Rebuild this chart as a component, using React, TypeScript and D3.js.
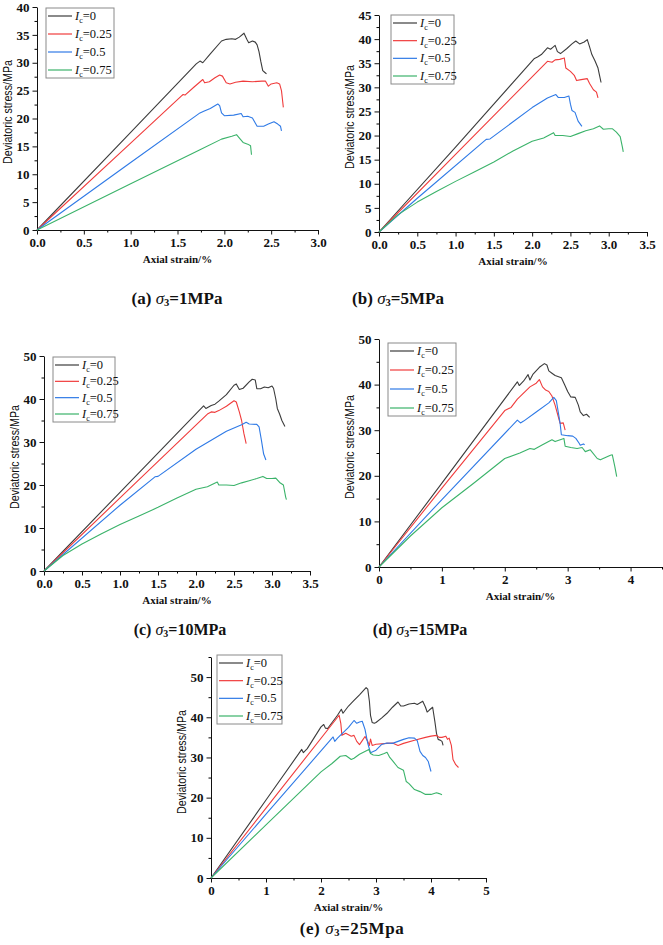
import { useEffect, useRef } from "react";
import * as d3 from "d3";

const W = 663;
const H = 945;

const levels = ["0", "0.25", "0.5", "0.75"];
const colors = ["#3c3c3c", "#f03c3c", "#2f7ae6", "#3bb36a"];

type Pt = [number, number];

// σ3 = 1 MPa  (strain %, deviatoric stress MPa)
const a_ic0: Pt[] = [[0, 0], [1.0, 17.5], [1.7, 29.8], [1.74, 30.3], [1.77, 30.0], [1.85, 31.6], [1.97, 33.9], [2.02, 34.2], [2.08, 34.3], [2.12, 34.2], [2.16, 34.6], [2.21, 35.3], [2.24, 34.2], [2.26, 33.6], [2.3, 33.9], [2.33, 33.7], [2.35, 33.2], [2.37, 32.0], [2.39, 30.2], [2.41, 28.6], [2.43, 28.3], [2.45, 28.0]];
const a_ic025: Pt[] = [[0, 0], [1.0, 15.6], [1.54, 24.0], [1.56, 24.3], [1.58, 24.2], [1.68, 25.7], [1.77, 27.0], [1.79, 26.4], [1.84, 26.6], [1.9, 27.3], [1.95, 27.8], [1.98, 27.6], [2.02, 26.4], [2.06, 26.2], [2.12, 26.5], [2.2, 26.7], [2.3, 26.6], [2.4, 26.7], [2.44, 26.7], [2.47, 25.8], [2.5, 26.2], [2.56, 26.4], [2.59, 26.2], [2.61, 25.0], [2.62, 23.5], [2.63, 22.0]];
const a_ic05: Pt[] = [[0, 0], [1.0, 12.1], [1.74, 21.0], [1.78, 21.3], [1.85, 21.8], [1.93, 22.6], [1.95, 22.3], [1.97, 21.0], [2.0, 20.5], [2.1, 20.6], [2.18, 20.9], [2.2, 20.3], [2.25, 20.4], [2.3, 20.1], [2.33, 19.2], [2.35, 18.6], [2.42, 18.6], [2.47, 19.0], [2.53, 19.4], [2.57, 19.0], [2.6, 18.6], [2.61, 17.8]];
const a_ic075: Pt[] = [[0, 0], [1.0, 8.3], [1.74, 14.4], [1.97, 16.3], [2.08, 16.8], [2.13, 17.1], [2.17, 16.3], [2.2, 15.7], [2.25, 15.4], [2.28, 15.1], [2.29, 13.5]];

// σ3 = 5 MPa
const b_ic0: Pt[] = [[0, 0], [1.0, 17.6], [2.03, 36.0], [2.07, 36.3], [2.12, 36.8], [2.2, 38.2], [2.24, 37.9], [2.27, 38.3], [2.3, 38.7], [2.33, 37.4], [2.37, 37.0], [2.45, 38.0], [2.52, 39.0], [2.57, 39.6], [2.62, 39.0], [2.68, 39.4], [2.72, 39.9], [2.75, 38.4], [2.78, 36.8], [2.82, 35.5], [2.86, 34.0], [2.88, 32.5], [2.9, 31.0]];
const b_ic025: Pt[] = [[0, 0], [1.0, 16.1], [2.2, 35.4], [2.26, 35.2], [2.3, 35.7], [2.36, 35.8], [2.42, 36.1], [2.44, 34.0], [2.5, 33.3], [2.55, 32.5], [2.58, 31.4], [2.64, 31.6], [2.72, 31.8], [2.75, 30.8], [2.8, 29.5], [2.84, 29.0], [2.86, 27.8]];
const b_ic05: Pt[] = [[0, 0], [0.5, 7.0], [1.4, 19.2], [1.45, 19.3], [2.0, 25.8], [2.2, 27.8], [2.31, 28.5], [2.34, 27.9], [2.42, 27.9], [2.48, 28.2], [2.5, 26.5], [2.52, 25.2], [2.56, 24.8], [2.6, 23.0], [2.65, 21.9]];
const b_ic075: Pt[] = [[0, 0], [0.25, 3.6], [0.5, 6.2], [0.75, 8.4], [1.0, 10.5], [1.25, 12.5], [1.5, 14.5], [1.75, 16.8], [2.0, 18.8], [2.15, 19.5], [2.28, 20.6], [2.3, 20.0], [2.4, 20.0], [2.5, 19.8], [2.6, 20.4], [2.7, 21.0], [2.8, 21.4], [2.88, 22.0], [2.93, 21.3], [3.0, 21.4], [3.05, 21.4], [3.1, 20.7], [3.15, 19.8], [3.18, 17.5], [3.19, 16.6]];

// σ3 = 10 MPa
const c_ic0: Pt[] = [[0, 0], [1.0, 18.3], [2.1, 38.4], [2.13, 37.8], [2.2, 38.5], [2.25, 38.8], [2.3, 39.5], [2.4, 41.0], [2.5, 43.2], [2.53, 43.5], [2.57, 42.2], [2.62, 42.5], [2.7, 44.0], [2.74, 44.6], [2.78, 44.4], [2.8, 42.4], [2.85, 42.4], [2.9, 42.8], [2.95, 42.6], [3.0, 43.0], [3.02, 42.5], [3.05, 40.0], [3.07, 37.8], [3.1, 36.5], [3.13, 35.0], [3.17, 33.6]];
const c_ic025: Pt[] = [[0, 0], [1.0, 17.0], [2.15, 36.5], [2.2, 37.0], [2.25, 36.9], [2.3, 37.3], [2.4, 38.3], [2.5, 39.6], [2.53, 39.3], [2.57, 37.0], [2.6, 35.0], [2.63, 32.0], [2.66, 29.6]];
const c_ic05: Pt[] = [[0, 0], [1.0, 15.3], [1.46, 21.9], [1.5, 22.0], [2.0, 28.3], [2.4, 32.5], [2.6, 34.0], [2.66, 34.6], [2.7, 34.2], [2.8, 34.1], [2.83, 33.5], [2.86, 30.5], [2.89, 27.2], [2.92, 25.8]];
const c_ic075: Pt[] = [[0, 0], [0.25, 3.6], [0.5, 6.3], [0.75, 8.6], [1.0, 10.8], [1.25, 12.8], [1.5, 14.8], [1.75, 17.0], [2.0, 19.0], [2.15, 19.6], [2.28, 20.7], [2.3, 20.0], [2.4, 20.0], [2.5, 19.9], [2.6, 20.5], [2.7, 21.0], [2.8, 21.5], [2.88, 22.0], [2.93, 21.5], [3.0, 21.5], [3.05, 21.6], [3.1, 20.6], [3.15, 20.0], [3.18, 17.2], [3.19, 16.6]];

// σ3 = 15 MPa
const d_ic0: Pt[] = [[0, 0], [1.0, 18.4], [2.2, 40.6], [2.23, 39.8], [2.3, 40.8], [2.37, 42.2], [2.4, 41.0], [2.45, 42.3], [2.55, 43.8], [2.63, 44.6], [2.67, 44.3], [2.7, 43.0], [2.75, 42.5], [2.8, 42.0], [2.9, 41.5], [2.95, 40.0], [3.0, 38.5], [3.05, 37.3], [3.12, 37.2], [3.17, 35.5], [3.2, 34.0], [3.25, 33.2], [3.3, 33.5], [3.35, 32.8]];
const d_ic025: Pt[] = [[0, 0], [1.0, 17.3], [2.0, 34.3], [2.1, 35.0], [2.2, 36.8], [2.4, 39.5], [2.5, 40.3], [2.55, 41.1], [2.6, 39.5], [2.65, 38.8], [2.7, 38.5], [2.75, 37.5], [2.8, 35.5], [2.85, 33.0], [2.88, 31.5], [2.93, 31.6], [2.96, 30.0]];
const d_ic05: Pt[] = [[0, 0], [1.0, 14.8], [2.2, 32.2], [2.25, 31.6], [2.3, 32.0], [2.5, 34.0], [2.7, 36.0], [2.78, 37.2], [2.82, 36.5], [2.85, 34.0], [2.88, 31.5], [2.9, 29.0], [3.0, 28.8], [3.08, 28.7], [3.13, 28.2], [3.18, 27.2], [3.2, 26.7], [3.25, 27.0], [3.27, 26.8]];
const d_ic075: Pt[] = [[0, 0], [0.5, 6.8], [1.0, 13.0], [1.5, 18.3], [2.0, 23.8], [2.24, 25.0], [2.4, 26.0], [2.47, 25.8], [2.6, 26.8], [2.75, 27.9], [2.8, 27.5], [2.94, 28.2], [2.96, 26.5], [3.05, 26.2], [3.15, 26.0], [3.23, 26.2], [3.28, 25.3], [3.36, 25.7], [3.47, 23.8], [3.52, 23.5], [3.6, 24.0], [3.68, 24.5], [3.71, 24.6], [3.75, 22.0], [3.78, 19.8]];

// σ3 = 25 MPa
const e_ic0: Pt[] = [[0, 0], [1.0, 19.4], [1.65, 32.0], [1.68, 31.2], [1.75, 32.2], [2.0, 37.6], [2.05, 38.2], [2.08, 37.3], [2.12, 37.2], [2.3, 40.5], [2.37, 42.0], [2.4, 41.0], [2.5, 42.8], [2.6, 44.2], [2.7, 45.6], [2.82, 47.4], [2.85, 47.0], [2.88, 44.0], [2.9, 40.5], [2.93, 38.7], [2.97, 38.5], [3.0, 38.7], [3.1, 39.8], [3.2, 41.0], [3.3, 42.5], [3.4, 43.8], [3.45, 42.8], [3.5, 42.8], [3.6, 43.3], [3.7, 43.5], [3.75, 43.2], [3.85, 44.0], [3.9, 42.5], [3.93, 41.3], [3.97, 41.8], [4.03, 42.5], [4.07, 39.0], [4.1, 36.0], [4.13, 34.5], [4.18, 34.2], [4.2, 34.0], [4.22, 33.0]];
const e_ic025: Pt[] = [[0, 0], [1.0, 17.4], [2.33, 40.5], [2.36, 38.5], [2.38, 35.5], [2.45, 36.0], [2.55, 35.3], [2.6, 35.5], [2.65, 34.0], [2.7, 33.2], [2.75, 34.2], [2.8, 35.2], [2.85, 34.0], [2.88, 33.0], [2.9, 34.6], [2.93, 33.0], [3.0, 33.3], [3.2, 33.5], [3.3, 33.6], [3.4, 33.0], [3.5, 33.5], [3.7, 34.3], [3.9, 35.0], [4.0, 35.3], [4.1, 35.5], [4.15, 35.0], [4.2, 35.0], [4.27, 35.3], [4.3, 34.5], [4.33, 34.8], [4.37, 33.0], [4.4, 29.5], [4.45, 28.2], [4.5, 27.5]];
const e_ic05: Pt[] = [[0, 0], [1.0, 15.9], [2.22, 35.1], [2.25, 34.0], [2.3, 34.8], [2.5, 37.5], [2.6, 39.2], [2.65, 38.5], [2.7, 38.8], [2.75, 39.0], [2.8, 37.0], [2.85, 33.5], [2.9, 31.2], [3.0, 31.8], [3.1, 33.2], [3.2, 33.6], [3.3, 33.5], [3.5, 34.5], [3.6, 34.9], [3.7, 34.8], [3.75, 34.2], [3.8, 31.5], [3.85, 30.5], [3.9, 30.0], [3.95, 29.0], [4.0, 26.5]];
const e_ic075: Pt[] = [[0, 0], [1.0, 13.2], [2.0, 26.4], [2.2, 28.5], [2.35, 30.3], [2.45, 30.5], [2.55, 29.5], [2.6, 29.8], [2.7, 30.8], [2.87, 32.0], [2.9, 31.0], [2.95, 30.6], [3.05, 30.5], [3.15, 31.0], [3.2, 31.3], [3.25, 30.0], [3.3, 29.2], [3.4, 27.5], [3.5, 26.8], [3.55, 24.0], [3.6, 23.5], [3.7, 22.0], [3.8, 21.5], [3.9, 20.8], [4.0, 20.8], [4.1, 21.2], [4.15, 21.0], [4.2, 20.7]];

// axis ticks
const xTicksA = [0, 0.5, 1, 1.5, 2, 2.5, 3];
const xTicksB = [0, 0.5, 1, 1.5, 2, 2.5, 3, 3.5];
const xTicksD = [0, 1, 2, 3, 4];
const xTicksE = [0, 1, 2, 3, 4, 5];
const yTicksA = [0, 5, 10, 15, 20, 25, 30, 35, 40];
const yTicksB = [0, 5, 10, 15, 20, 25, 30, 35, 40, 45];
const yTicks10 = [0, 10, 20, 30, 40, 50];

const captions = [
  { tag: "(a)", sub: "3", value: "=1MPa" },
  { tag: "(b)", sub: "3", value: "=5MPa" },
  { tag: "(c)", sub: "3", value: "=10MPa" },
  { tag: "(d)", sub: "3", value: "=15MPa" },
  { tag: "(e)", sub: "3", value: "=25Mpa" },
];

type Panel = {
  series: Pt[][];
  xDomain: [number, number];
  yDomain: [number, number];
  xTicks: number[];
  yTicks: number[];
  xMinor: number;
  yMinor: number;
  xFmt: string;
  left: number; right: number; top: number; bottom: number;
  legend: { x: number; y: number; w: number; h: number };
  caption: { x: number; y: number; size: number; spacing: number };
  labelY: number;
};

const panels: Panel[] = [
  {
    series: [a_ic0, a_ic025, a_ic05, a_ic075],
    xDomain: [0, 3], yDomain: [0, 40], xTicks: xTicksA, yTicks: yTicksA, xMinor: 0.25, yMinor: 2.5, xFmt: ".1f",
    left: 37, right: 318, top: 7, bottom: 230,
    legend: { x: 46, y: 8, w: 68, h: 70 },
    caption: { x: 177, y: 304, size: 17, spacing: 0 },
    labelY: 112,
  },
  {
    series: [b_ic0, b_ic025, b_ic05, b_ic075],
    xDomain: [0, 3.5], yDomain: [0, 45], xTicks: xTicksB, yTicks: yTicksB, xMinor: 0.25, yMinor: 2.5, xFmt: ".1f",
    left: 379, right: 647, top: 15, bottom: 232,
    legend: { x: 391, y: 15, w: 63, h: 69 },
    caption: { x: 398, y: 304, size: 17, spacing: 0 },
    labelY: 117,
  },
  {
    series: [c_ic0, c_ic025, c_ic05, c_ic075],
    xDomain: [0, 3.5], yDomain: [0, 50], xTicks: xTicksB, yTicks: yTicks10, xMinor: 0.25, yMinor: 5, xFmt: ".1f",
    left: 44, right: 310, top: 356, bottom: 571,
    legend: { x: 53, y: 357, w: 62, h: 65 },
    caption: { x: 180, y: 635, size: 16, spacing: 0 },
    labelY: 457,
  },
  {
    series: [d_ic0, d_ic025, d_ic05, d_ic075],
    xDomain: [0, 4.5], yDomain: [0, 50], xTicks: xTicksD, yTicks: yTicks10, xMinor: 0.5, yMinor: 5, xFmt: "d",
    left: 379, right: 662, top: 339, bottom: 567,
    legend: { x: 388, y: 343, w: 68, h: 73 },
    caption: { x: 420, y: 635, size: 16, spacing: 0 },
    labelY: 447,
  },
  {
    series: [e_ic0, e_ic025, e_ic05, e_ic075],
    xDomain: [0, 5], yDomain: [0, 55], xTicks: xTicksE, yTicks: yTicks10, xMinor: 0.5, yMinor: 5, xFmt: "d",
    left: 211, right: 486, top: 657, bottom: 878,
    legend: { x: 217, y: 655, w: 65, h: 69 },
    caption: { x: 352, y: 934, size: 17, spacing: 0.6 },
    labelY: 762,
  },
];

const serif = "'Liberation Serif', 'Times New Roman', serif";
const sans = "'Liberation Sans', Arial, sans-serif";

function minorTicks(domain: [number, number], step: number, major: number[]) {
  const out: number[] = [];
  for (let v = domain[0]; v <= domain[1] + 1e-9; v += step) {
    const r = Math.round(v * 1000) / 1000;
    if (!major.some((m) => Math.abs(m - r) < 1e-6)) out.push(r);
  }
  return out;
}

function drawPanel(svg: d3.Selection<SVGSVGElement, unknown, null, undefined>, p: Panel, i: number) {
  const x = d3.scaleLinear().domain(p.xDomain).range([p.left, p.right]);
  const y = d3.scaleLinear().domain(p.yDomain).range([p.bottom, p.top]);
  const g = svg.append("g").attr("class", "panel-" + i);

  // minor ticks first, then the major axis on top
  g.append("g")
    .attr("transform", `translate(0,${p.bottom})`)
    .call(d3.axisBottom(x).tickValues(minorTicks(p.xDomain, p.xMinor, p.xTicks)).tickSize(2.5).tickSizeOuter(0).tickFormat(() => ""))
    .call((s) => s.select(".domain").remove());
  g.append("g")
    .attr("transform", `translate(${p.left},0)`)
    .call(d3.axisLeft(y).tickValues(minorTicks(p.yDomain, p.yMinor, p.yTicks)).tickSize(2.5).tickSizeOuter(0).tickFormat(() => ""))
    .call((s) => s.select(".domain").remove());

  const xa = g.append("g")
    .attr("transform", `translate(0,${p.bottom})`)
    .call(d3.axisBottom(x).tickValues(p.xTicks).tickSize(4.5).tickSizeOuter(0).tickPadding(3).tickFormat(d3.format(p.xFmt) as any));
  const ya = g.append("g")
    .attr("transform", `translate(${p.left},0)`)
    .call(d3.axisLeft(y).tickValues(p.yTicks).tickSize(4.5).tickSizeOuter(0).tickPadding(3).tickFormat(d3.format("d") as any));

  [xa, ya].forEach((ax) => {
    ax.attr("font-family", null).attr("font-size", null);
    ax.selectAll("path, line").attr("stroke", "#111").attr("stroke-width", 1);
    ax.selectAll("text")
      .style("font-family", serif)
      .style("font-weight", "bold")
      .style("font-size", "13px")
      .attr("fill", "#111");
  });

  // curves
  const line = d3.line<Pt>().x((d) => x(d[0])).y((d) => y(d[1]));
  p.series.forEach((s, k) => {
    g.append("path")
      .datum(s)
      .attr("d", line)
      .attr("fill", "none")
      .attr("stroke", colors[k])
      .attr("stroke-width", 1.1)
      .attr("stroke-linejoin", "round");
  });

  // legend
  const lg = g.append("g").attr("transform", `translate(${p.legend.x},${p.legend.y})`);
  lg.append("rect")
    .attr("width", p.legend.w).attr("height", p.legend.h)
    .attr("fill", "#fff").attr("stroke", "#8a8a8a").attr("stroke-width", 1);
  const step = (p.legend.h - 16) / 3;
  levels.forEach((lv, k) => {
    const ry = 8 + k * step;
    lg.append("line")
      .attr("x1", 2).attr("x2", 26).attr("y1", ry).attr("y2", ry)
      .attr("stroke", colors[k]).attr("stroke-width", 1.2);
    const t = lg.append("text")
      .attr("x", 29).attr("y", ry + 4)
      .style("font-family", serif).style("font-size", "12.5px").attr("fill", "#111");
    t.append("tspan").style("font-style", "italic").text("I");
    t.append("tspan").attr("dy", 3).style("font-size", "8px").text("c");
    t.append("tspan").attr("dy", -3).text("=" + lv);
  });

  // axis titles
  g.append("text")
    .attr("x", (p.left + p.right) / 2)
    .attr("y", p.bottom + 33)
    .attr("text-anchor", "middle")
    .style("font-family", serif).style("font-weight", "bold").style("font-size", "11px")
    .attr("fill", "#111")
    .text("Axial strain/%");
  g.append("text")
    .attr("transform", `translate(${p.left - 25},${p.labelY}) rotate(-90)`)
    .attr("text-anchor", "middle")
    .attr("textLength", 104)
    .attr("lengthAdjust", "spacingAndGlyphs")
    .style("font-family", sans).style("font-size", "13.5px")
    .attr("fill", "#111")
    .text("Deviatoric stress/MPa");

  // caption under the panel
  const c = captions[i];
  const ct = g.append("text")
    .attr("x", p.caption.x).attr("y", p.caption.y)
    .attr("text-anchor", "middle")
    .style("font-family", serif)
    .style("font-weight", "bold")
    .style("font-size", p.caption.size + "px")
    .style("letter-spacing", p.caption.spacing + "px")
    .attr("fill", "#111");
  ct.append("tspan").text(c.tag + " ");
  ct.append("tspan").style("font-style", "italic").style("font-weight", "normal").text("σ");
  ct.append("tspan").attr("dy", 2).style("font-size", p.caption.size * 0.62 + "px").text(c.sub);
  ct.append("tspan").attr("dy", -2).text(c.value);
}

export default function App() {
  const ref = useRef<SVGSVGElement>(null);

  useEffect(() => {
    const svg = d3.select(ref.current!);
    svg.selectAll("*").remove();
    svg.append("rect").attr("width", W).attr("height", H).attr("fill", "#fff");
    panels.forEach((p, i) => drawPanel(svg as any, p, i));
  }, []);

  return (
    <svg
      ref={ref}
      width={W}
      height={H}
      style={{ position: "absolute", left: 0, top: 0, display: "block" }}
    />
  );
}
